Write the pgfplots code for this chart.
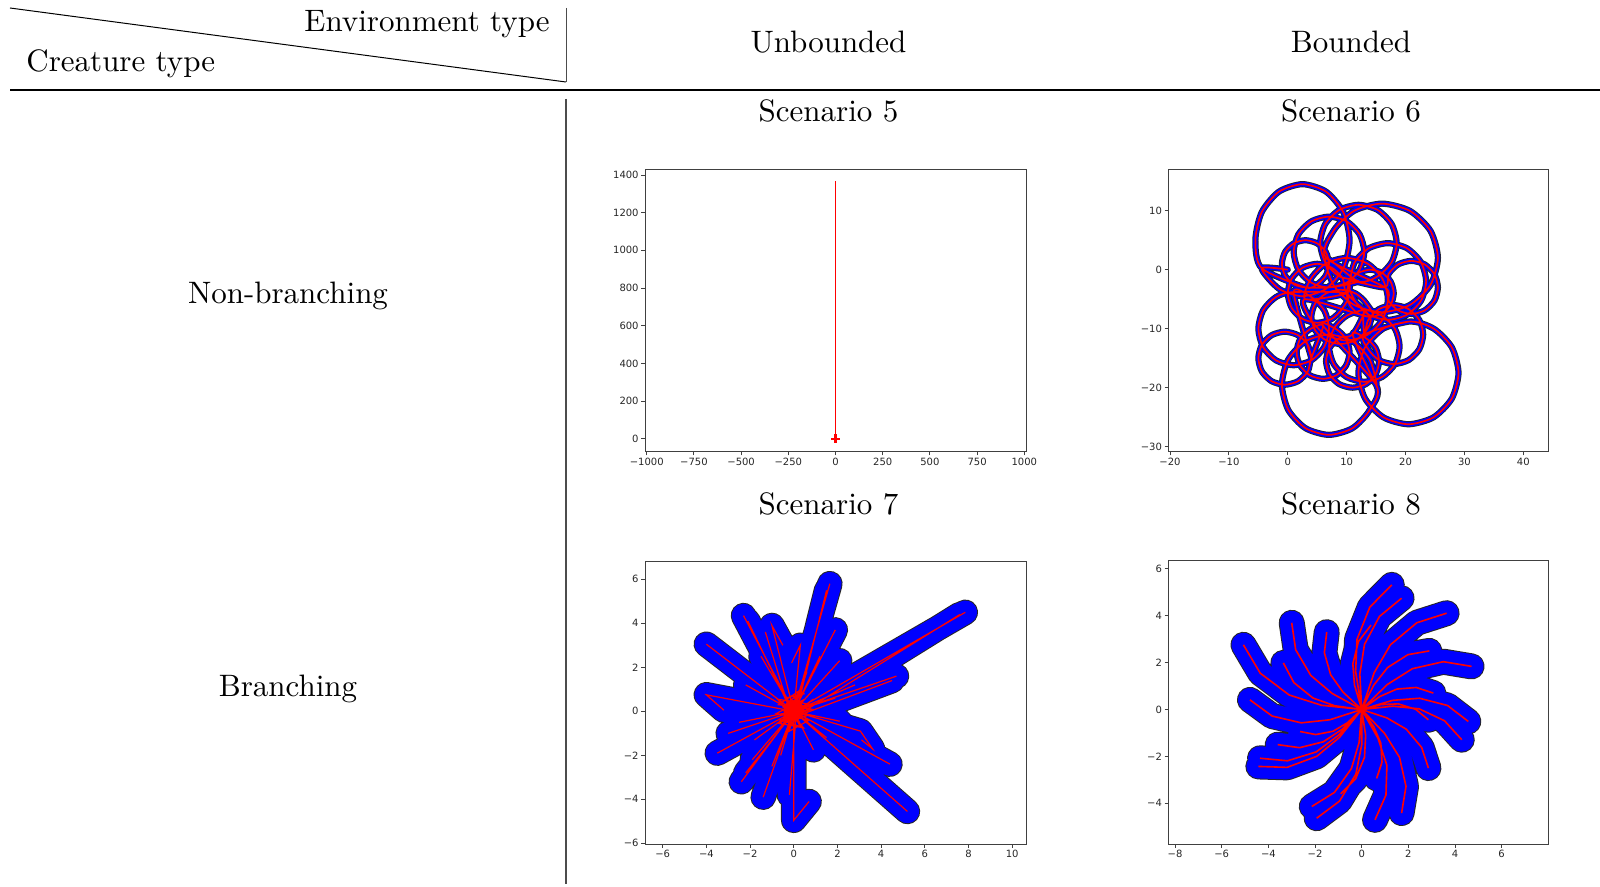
\documentclass[border=0pt]{standalone}
\usepackage{fontspec}
\usepackage{graphicx}
\usepackage{pgfplots}
\usepackage{pgfplotstable}
\pgfplotsset{compat=1.18}
\newfontfamily\dejavu{DejaVu Sans}
\newfontfamily\lmten{lmroman10-regular.otf}
\newcommand\hdr{\lmten\fontsize{15.5}{18}\selectfont}

\pgfplotsset{
  mpl/.style={
    scale only axis,
    anchor=north west,
    axis line style={black!75, line width=0.45pt},
    tick align=outside,
    tick pos=left,
    major tick length=1.8pt,
    tick style={black!75, line width=0.45pt},
    ticklabel style={font=\dejavu\fontsize{5}{6}\selectfont, text=black!85},
    xticklabel style={inner sep=1pt},
    yticklabel style={inner sep=1.2pt},
    unbounded coords=jump,
    clip=true,
  }
}

% Scenario 6 trajectory
\pgfplotstableread{
x y
0 0
-4.43 0.25
-1.5 -3.23
2.5 -4.5
6.5 -3.23
9.43 0.25
10.5 5
9.43 9.75
6.5 13.23
2.5 14.5
-1.5 13.23
-4.43 9.75
-5.5 5
-4.43 0.25
3 -3
5 -2.46
6.46 -1
7 1
6.46 3
5 4.46
3 5
1 4.46
-0.46 3
-1 1
-0.46 -1
1 -2.46
3 -3
7 -3
10 -2.2
12.2 0
13 3
12.2 6
10 8.2
7 9
4 8.2
1.8 6
1 3
1.8 0
4 -2.2
7 -3
12 -2
8.75 -1.13
6.37 1.25
5.5 4.5
6.37 7.75
8.75 10.13
12 11
15.25 10.13
17.63 7.75
18.5 4.5
17.63 1.25
15.25 -1.13
12 -2
6.5 2
7.77 -2.6
11.25 -5.97
16 -7.2
20.75 -5.97
24.23 -2.6
25.5 2
24.23 6.6
20.75 9.97
16 11.2
11.25 9.97
7.77 6.6
6.5 2
16.5 -3
17.1 -5.25
18.75 -6.9
21 -7.5
23.25 -6.9
24.9 -5.25
25.5 -3
24.9 -0.75
23.25 0.9
21 1.5
18.75 0.9
17.1 -0.75
16.5 -3
10.5 -2
11.37 -5.25
13.75 -7.63
17 -8.5
20.25 -7.63
22.63 -5.25
23.5 -2
22.63 1.25
20.25 3.63
17 4.5
13.75 3.63
11.37 1.25
10.5 -2
10 -4
10.54 -6
12 -7.46
14 -8
16 -7.46
17.46 -6
18 -4
17.46 -2
16 -0.54
14 0
12 -0.54
10.54 -2
10 -4
3 -5
3.94 -1.5
6.5 1.06
10 2
13.5 1.06
16.06 -1.5
17 -5
16.06 -8.5
13.5 -11.06
10 -12
6.5 -11.06
3.94 -8.5
3 -5
14 -8
13.33 -5.7
11.5 -4.02
9 -3.4
6.5 -4.02
4.67 -5.7
4 -8
4.67 -10.3
6.5 -11.98
9 -12.6
11.5 -11.98
13.33 -10.3
14 -8
10 -4
9.33 -1.5
7.5 0.33
5 1
2.5 0.33
0.67 -1.5
0 -4
0.67 -6.5
2.5 -8.33
5 -9
7.5 -8.33
9.33 -6.5
10 -4
1 -3.8
-2 -4.63
-4.2 -6.9
-5 -10
-4.2 -13.1
-2 -15.37
1 -16.2
4 -15.37
6.2 -13.1
7 -10
6.2 -6.9
4 -4.63
1 -3.8
4 -15
3.4 -12.75
1.75 -11.1
-0.5 -10.5
-2.75 -11.1
-4.4 -12.75
-5 -15
-4.4 -17.25
-2.75 -18.9
-0.5 -19.5
1.75 -18.9
3.4 -17.25
4 -15
6 -9.5
3.75 -10.1
2.1 -11.75
1.5 -14
2.1 -16.25
3.75 -17.9
6 -18.5
8.25 -17.9
9.9 -16.25
10.5 -14
9.9 -11.75
8.25 -10.1
6 -9.5
15 -19.5
13.93 -23.75
11 -26.86
7 -28
3 -26.86
0.07 -23.75
-1 -19.5
0.07 -15.25
3 -12.14
7 -11
11 -12.14
13.93 -15.25
15 -19.5
11 -11
13.25 -11.6
14.9 -13.25
15.5 -15.5
14.9 -17.75
13.25 -19.4
11 -20
8.75 -19.4
7.1 -17.75
6.5 -15.5
7.1 -13.25
8.75 -11.6
11 -11
13 -7
10 -7.8
7.8 -10
7 -13
7.8 -16
10 -18.2
13 -19
16 -18.2
18.2 -16
19 -13
18.2 -10
16 -7.8
13 -7
13 -11
13.67 -8.5
15.5 -6.67
18 -6
20.5 -6.67
22.33 -8.5
23 -11
22.33 -13.5
20.5 -15.33
18 -16
15.5 -15.33
13.67 -13.5
13 -11
20.5 -8.8
24.75 -9.97
27.86 -13.15
29 -17.5
27.86 -21.85
24.75 -25.03
20.5 -26.2
16.25 -25.03
13.14 -21.85
12 -17.5
13.14 -13.15
16.25 -9.97
20.5 -8.8
}\tsix

% Scenario 7 branches
\pgfplotstableread{
x y
0 0
1.65 5.8
nan nan
0.2 0.3
1.5 5.5
nan nan
0 0
7.85 4.5
nan nan
0.3 -0.1
7.6 4.4
nan nan
0 0
4.7 1.6
nan nan
0.2 -0.2
4.5 1.4
nan nan
0 0
-2.3 4.35
nan nan
-0.2 0.2
-2.1 4.1
nan nan
0 0
-4.0 3.05
nan nan
0 0
-1.0 3.9
-0.5 3.0
nan nan
-0.3 0.4
-1.3 3.6
nan nan
0 0
1.9 3.7
nan nan
0 0
-4.0 0.75
-3.2 0.05
nan nan
0 0
-3.5 -1.9
nan nan
0 0
-2.4 -3.2
nan nan
-0.2 -0.3
-2.2 -2.8
nan nan
0 0
-1.4 -3.9
nan nan
0 0
0 -4.95
0.7 -4.1
nan nan
0.1 -0.3
-0.2 -3.8
nan nan
0 0
5.2 -4.55
nan nan
0 0
4.4 -2.4
nan nan
0 0
3.05 -0.9
3.6 -1.7
3.1 -1.3
nan nan
0 0
2.1 2.3
nan nan
0 0
2.1 -0.45
nan nan
0 0
0.9 -1.75
nan nan
0 0
-3.0 -1.0
nan nan
0 0
-1.9 -2.2
nan nan
0 0
0.3 3.0
-0.1 2.2
nan nan
0 0
-1.5 2.5
nan nan
0 0
1.2 2.5
nan nan
0 0
2.8 1.2
nan nan
0 0
-2.5 -0.5
nan nan
0 0
1.5 -1.2
nan nan
0 0
-1.0 -2.5
nan nan
0 0
-2.2 1.2
nan nan
0 0
0.6 1.8
nan nan
0 0
-1.8 -1.3
nan nan
0 0
1.9 0.6
nan nan
0 0
-0.6 -2.0
nan nan
0.5 0.8
-0.4 0.6
0.3 -0.7
-0.6 -0.4
0.8 0.1
-0.7 0.3
0.2 0.9
-0.2 -0.9
0.7 -0.4
-0.8 -0.1
0.4 0.5
-0.3 -0.5
0.6 -0.2
-0.5 0.2
0.1 0.7
-0.1 -0.6
0.75 0.45
-0.65 -0.55
0.45 -0.75
-0.75 0.55
0.9 0.3
}\tseven

% Scenario 8 spiral arms
\pgfplotstableread{
x y
0 0
-0.26 1.62
-0.20 3.00
0.35 4.37
1.29 5.32
nan nan
0 0
-0.08 1.51
0.12 2.78
0.76 3.97
1.71 4.75
nan nan
0 0
0.53 1.56
1.23 2.76
2.36 3.70
3.64 4.11
nan nan
0 0
1.09 1.06
2.17 1.74
3.50 2.04
4.71 1.84
nan nan
0 0
1.32 0.39
2.48 0.48
3.68 0.17
4.57 -0.51
nan nan
0 0
1.33 0.14
2.46 0.03
3.55 -0.48
4.29 -1.29
nan nan
0 0
1.08 -0.36
1.91 -0.84
2.57 -1.62
2.86 -2.5
nan nan
0 0
0.98 -1.02
1.62 -2.04
1.90 -3.28
1.71 -4.42
nan nan
0 0
0.70 -1.23
1.08 -2.38
1.04 -3.65
0.57 -4.71
nan nan
0 0
0.00 -1.51
-0.25 -2.76
-0.95 -3.91
-1.93 -4.64
nan nan
0 0
-0.11 -1.40
-0.44 -2.52
-1.17 -3.54
-2.14 -4.14
nan nan
0 0
-0.97 -1.08
-1.95 -1.81
-3.18 -2.19
-4.36 -2.08
nan nan
0 0
-0.95 -1.19
-1.93 -2.00
-3.20 -2.47
-4.43 -2.43
nan nan
0 0
-1.37 -0.44
-2.59 -0.57
-3.84 -0.28
-4.79 0.41
nan nan
0 0
-1.72 0.18
-3.11 0.62
-4.35 1.55
-5.07 2.76
nan nan
0 0
-1.26 0.68
-2.18 1.45
-2.83 2.55
-3.0 3.7
nan nan
0 0
-1.16 0.16
-2.09 0.49
-2.91 1.15
-3.36 1.99
nan nan
0 0
-0.62 -0.57
-1.23 -0.93
-1.97 -1.07
-2.64 -0.94
nan nan
0 0
0.52 -0.74
0.82 -1.44
0.87 -2.25
0.64 -2.94
nan nan
0 0
0.77 0.55
1.50 0.87
2.34 0.94
3.07 0.7
nan nan
0 0
0.84 0.21
1.57 0.24
2.31 0.01
2.86 -0.44
nan nan
0 0
-0.80 0.74
-1.33 1.48
-1.60 2.42
-1.5 3.3
nan nan
0 0
-0.31 1.05
-0.38 1.95
-0.14 2.90
0.4 3.6
nan nan
0 0
0.51 1.03
1.11 1.79
1.98 2.34
2.9 2.5
nan nan
0 0
0.17 -1.10
0.12 -2.04
-0.26 -2.96
-0.9 -3.6
nan nan
0 0
-0.82 -0.83
-1.65 -1.38
-2.66 -1.63
-3.6 -1.5
}\teight

\begin{document}
\begin{tikzpicture}
\useasboundingbox (0,0) rectangle (800pt,-443.5pt);

% header / table lines
\draw[line width=0.5pt] (5pt,-4pt) -- (283pt,-41pt);
\draw[line width=0.5pt, black!70] (283pt,-4pt) -- (283pt,-41pt);
\draw[line width=0.8pt] (5pt,-45pt) -- (800pt,-45pt);
\draw[line width=0.6pt, black!70] (283pt,-49.5pt) -- (283pt,-442pt);

\node[anchor=base east, inner sep=0pt] at (275pt,-15.8pt) {\hdr Environment type};
\node[anchor=base west, inner sep=0pt] at (13pt,-35.7pt) {\hdr Creature type};
\node[anchor=base, inner sep=0pt] at (414.25pt,-26.5pt) {\hdr Unbounded};
\node[anchor=base, inner sep=0pt] at (675.5pt,-26.5pt) {\hdr Bounded};
\node[anchor=base, inner sep=0pt] at (414.25pt,-60.7pt) {\hdr Scenario 5};
\node[anchor=base, inner sep=0pt] at (675.5pt,-60.7pt) {\hdr Scenario 6};
\node[anchor=base, inner sep=0pt] at (414.25pt,-257pt) {\hdr Scenario 7};
\node[anchor=base, inner sep=0pt] at (675.5pt,-257pt) {\hdr Scenario 8};
\node[anchor=base, inner sep=0pt] at (144pt,-152pt) {\hdr Non-branching};
\node[anchor=base, inner sep=0pt] at (144pt,-348pt) {\hdr Branching};

% Scenario 5
\begin{axis}[mpl, at={(322.5pt,-84.5pt)}, width=190.5pt, height=141.35pt,
  xmin=-1009, xmax=1009, ymin=-69, ymax=1432,
  xtick={-1000,-750,-500,-250,0,250,500,750,1000},
  xticklabels={−1000,−750,−500,−250,0,250,500,750,1000},
  ytick={0,200,400,600,800,1000,1200,1400},
  yticklabels={0,200,400,600,800,1000,1200,1400}]
\addplot[red, line width=0.8pt, no marks] coordinates {(0,0) (0,1370)};
\addplot[red, only marks, mark=+, mark size=2.2pt, line width=1.1pt] coordinates {(0,0)};
\end{axis}

% Scenario 6
\begin{axis}[mpl, at={(584.15pt,-84.5pt)}, width=190pt, height=141.35pt,
  xmin=-20.29, xmax=44.25, ymin=-30.85, ymax=17.07,
  xtick={-20,-10,0,10,20,30,40},
  xticklabels={−20,−10,0,10,20,30,40},
  ytick={-30,-20,-10,0,10},
  yticklabels={−30,−20,−10,0,10}]
\addplot[black!85, line width=3.1pt, smooth, tension=0.45, line join=round, line cap=round, no marks] table {\tsix};
\addplot[blue, line width=2.3pt, smooth, tension=0.45, line join=round, line cap=round, no marks] table {\tsix};
\addplot[red, line width=0.85pt, smooth, tension=0.45, line join=round, no marks] table {\tsix};
\end{axis}

% Scenario 7
\begin{axis}[mpl, at={(322.5pt,-280.85pt)}, width=190.5pt, height=141.15pt,
  xmin=-6.81, xmax=10.63, ymin=-6.03, ymax=6.8,
  xtick={-6,-4,-2,0,2,4,6,8,10},
  xticklabels={−6,−4,−2,0,2,4,6,8,10},
  ytick={-6,-4,-2,0,2,4,6},
  yticklabels={−6,−4,−2,0,2,4,6}]
\addplot[black!85, line width=12.8pt, line join=round, line cap=round, no marks] table {\tseven};
\addplot[blue, line width=11.8pt, line join=round, line cap=round, no marks] table {\tseven};
\addplot[red, line width=0.6pt, no marks] table {\tseven};
\addplot[red, only marks, mark=*, mark size=5pt] coordinates {(0,0.05)};
\end{axis}

% Scenario 8
\begin{axis}[mpl, at={(584.15pt,-280.35pt)}, width=190pt, height=141.65pt,
  xmin=-8.29, xmax=8.0, ymin=-5.74, ymax=6.35,
  xtick={-8,-6,-4,-2,0,2,4,6},
  xticklabels={−8,−6,−4,−2,0,2,4,6},
  ytick={-4,-2,0,2,4,6},
  yticklabels={−4,−2,0,2,4,6}]
\addplot[black!85, line width=13pt, line join=round, line cap=round, no marks] table {\teight};
\addplot[blue, line width=12pt, line join=round, line cap=round, no marks] table {\teight};
\addplot[red, line width=0.8pt, line join=round, no marks] table {\teight};
\end{axis}
\end{tikzpicture}
\end{document}
